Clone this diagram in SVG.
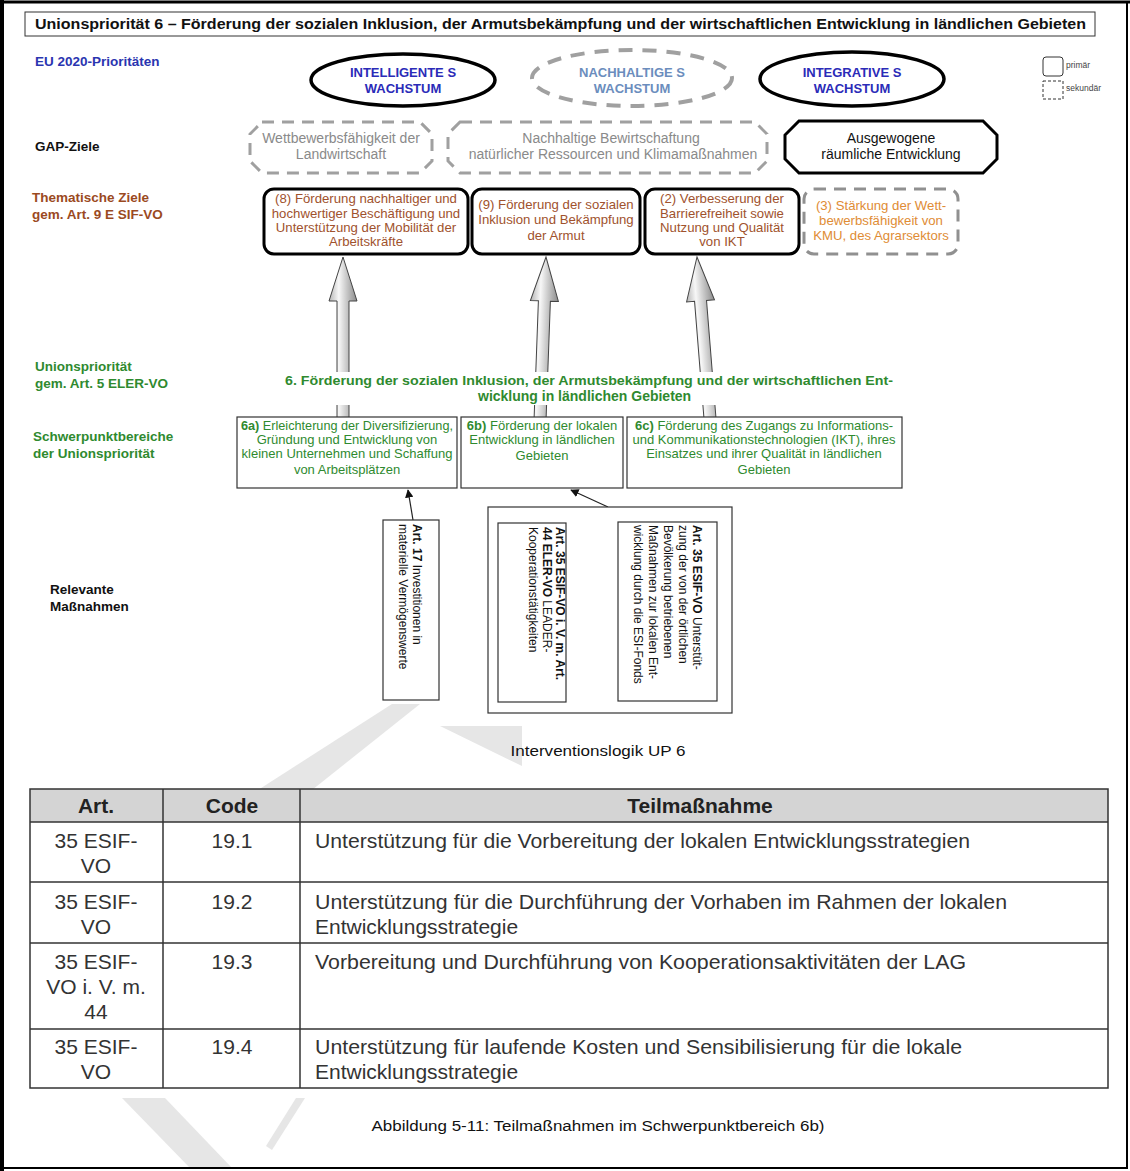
<svg xmlns="http://www.w3.org/2000/svg" width="1130" height="1171" viewBox="0 0 1130 1171">
<defs>
<style>
text{font-family:"Liberation Sans",Arial,sans-serif;}
.lbl{font-size:13.5px;font-weight:bold;}
.c{text-anchor:middle;}
.blue{fill:#2a35b0;}
.brown{fill:#9b4a1f;}
.green{fill:#2f8a2f;}
.ell{fill:#fff;stroke:#000;stroke-width:3.5;}
.elld{fill:#fff;stroke:#a0a0a0;stroke-width:4;stroke-dasharray:14 10;}
.gapd{fill:#fff;stroke:#a0a0a0;stroke-width:3;stroke-dasharray:12 8;}
.gaps{fill:#fff;stroke:#000;stroke-width:3;}
.gt{font-size:14px;fill:#8a8a8a;}
.tz{fill:#fff;stroke:#000;stroke-width:3;}
.tzd{fill:#fff;stroke:#909090;stroke-width:3;stroke-dasharray:12 8;}
.tzt{font-size:13.2px;fill:#a0522d;}
.fb{fill:#fff;stroke:#333;stroke-width:1.2;}
.ft{font-size:13px;fill:#2f8a2f;}
.mb{fill:#fff;stroke:#333;stroke-width:1.2;}
.mt{font-size:12px;fill:#111;}
.th{font-size:21px;font-weight:bold;fill:#222;}
.td{font-size:21px;fill:#333;}
.wm{fill:#e6e6e6;}
</style>
<linearGradient id="ag" x1="0" y1="0" x2="1" y2="0">
<stop offset="0" stop-color="#b5b5b5"/>
<stop offset="0.35" stop-color="#f7f7f7"/>
<stop offset="1" stop-color="#8a8a8a"/>
</linearGradient>
<marker id="ah" viewBox="0 0 10 10" refX="9" refY="5" markerWidth="7" markerHeight="7" orient="auto">
<path d="M0,0 L10,5 L0,10 z" fill="#111"/>
</marker>
<path id="bigarrow" d="M0,0 L14,44 L6,44 L6,162 L-6,162 L-6,44 L-14,44 Z"/>
</defs>

<rect x="0" y="0" width="1130" height="1171" fill="#fff"/>

<!-- watermark fragments -->
<g id="watermark">
<polygon class="wm" points="392,704 420,704 312,790 258,790"/>
<polygon class="wm" points="440,726 522,726 522,766"/>
<polygon class="wm" points="122,1098 165,1098 232,1168 190,1168"/>
<polygon class="wm" points="296,1098 305,1098 272,1150 266,1146"/>
</g>

<!-- frame -->
<rect x="2" y="2" width="1125" height="1166" fill="none" stroke="#000" stroke-width="2"/>
<line x1="2" y1="0" x2="2" y2="1171" stroke="#000" stroke-width="4"/>
<line x1="0" y1="2" x2="1130" y2="2" stroke="#000" stroke-width="3"/>

<!-- title -->
<g id="title">
<rect x="25" y="12" width="1070" height="24" fill="#fff" stroke="#333" stroke-width="1"/>
<text x="35" y="29" font-size="14.5" font-weight="bold" fill="#111" textLength="1051" lengthAdjust="spacingAndGlyphs">Unionspriorität 6 – Förderung der sozialen Inklusion, der Armutsbekämpfung und der wirtschaftlichen Entwicklung in ländlichen Gebieten</text>
</g>

<!-- row labels -->
<g id="row-labels">
<text x="35" y="66" class="lbl blue" font-size="12.5">EU 2020-Prioritäten</text>
<text x="35" y="151" class="lbl" fill="#111">GAP-Ziele</text>
<text x="32" y="202" class="lbl brown" font-size="14">Thematische Ziele</text>
<text x="32" y="219" class="lbl brown" font-size="14">gem. Art. 9 E SIF-VO</text>
<text x="35" y="371" class="lbl green" font-size="14">Unionspriorität</text>
<text x="35" y="388" class="lbl green" font-size="14">gem. Art. 5 ELER-VO</text>
<text x="33" y="441" class="lbl green" font-size="14">Schwerpunktbereiche</text>
<text x="33" y="458" class="lbl green" font-size="14">der Unionspriorität</text>
<text x="50" y="594" class="lbl" font-size="12.5" fill="#111">Relevante</text>
<text x="50" y="611" class="lbl" font-size="12.5" fill="#111">Maßnahmen</text>
</g>

<!-- legend -->
<g id="legend">
<rect x="1043" y="57" width="20" height="19" rx="3" fill="#fff" stroke="#333" stroke-width="1"/>
<text x="1066" y="68" font-size="8.5" fill="#444">primär</text>
<rect x="1043" y="81" width="20" height="18" fill="#fff" stroke="#333" stroke-width="1" stroke-dasharray="3 2"/>
<text x="1066" y="91" font-size="8.5" fill="#444">sekundär</text>
</g>

<!-- EU 2020 -->
<g id="eu-intelligent">
<ellipse cx="403" cy="80" rx="92" ry="26" class="ell"/>
<text x="403" y="77" class="c" font-size="13" font-weight="bold" fill="#2b2bb8">INTELLIGENTE S</text>
<text x="403" y="93" class="c" font-size="13" font-weight="bold" fill="#2b2bb8">WACHSTUM</text>
</g>
<g id="eu-nachhaltig">
<ellipse cx="632" cy="78" rx="100" ry="28" class="elld"/>
<text x="632" y="77" class="c" font-size="13" font-weight="bold" fill="#6b8dbd">NACHHALTIGE S</text>
<text x="632" y="93" class="c" font-size="13" font-weight="bold" fill="#6b8dbd">WACHSTUM</text>
</g>
<g id="eu-integrativ">
<ellipse cx="852" cy="79" rx="92" ry="27" class="ell"/>
<text x="852" y="77" class="c" font-size="13" font-weight="bold" fill="#2b2bb8">INTEGRATIVE S</text>
<text x="852" y="93" class="c" font-size="13" font-weight="bold" fill="#2b2bb8">WACHSTUM</text>
</g>

<!-- GAP -->
<g id="gap-wettbewerb">
<path d="M262,122 H420 L432,134 V161 L420,173 H262 L250,161 V134 Z" class="gapd"/>
<text x="341" y="143" class="c gt">Wettbewerbsfähigkeit der</text>
<text x="341" y="159" class="c gt">Landwirtschaft</text>
</g>
<g id="gap-nachhaltig">
<path d="M460,122 H755 L767,134 V161 L755,173 H460 L448,161 V134 Z" class="gapd"/>
<text x="611" y="143" class="c gt">Nachhaltige Bewirtschaftung</text>
<text x="613" y="159" class="c gt">natürlicher Ressourcen und Klimamaßnahmen</text>
</g>
<g id="gap-raeumlich">
<path d="M799,121 H983 L997,135 V159 L983,173 H799 L785,159 V135 Z" class="gaps"/>
<text x="891" y="143" class="c" font-size="14" fill="#111">Ausgewogene</text>
<text x="891" y="159" class="c" font-size="14" fill="#111">räumliche Entwicklung</text>
</g>

<!-- Thematische Ziele -->
<g id="tz8">
<rect x="264" y="189" width="204" height="65" rx="10" class="tz"/>
<text x="366" y="203" class="c tzt">(8) Förderung nachhaltiger und</text>
<text x="366" y="218" class="c tzt">hochwertiger Beschäftigung und</text>
<text x="366" y="232" class="c tzt">Unterstützung der Mobilität der</text>
<text x="366" y="246" class="c tzt">Arbeitskräfte</text>
</g>
<g id="tz9">
<rect x="472" y="189" width="168" height="65" rx="10" class="tz"/>
<text x="556" y="209" class="c tzt">(9) Förderung der sozialen</text>
<text x="556" y="224" class="c tzt">Inklusion und Bekämpfung</text>
<text x="556" y="240" class="c tzt">der Armut</text>
</g>
<g id="tz2">
<rect x="645" y="189" width="154" height="65" rx="10" class="tz"/>
<text x="722" y="203" class="c tzt">(2) Verbesserung der</text>
<text x="722" y="218" class="c tzt">Barrierefreiheit sowie</text>
<text x="722" y="232" class="c tzt">Nutzung und Qualität</text>
<text x="722" y="246" class="c tzt">von IKT</text>
</g>
<g id="tz3">
<rect x="804" y="189" width="154" height="65" rx="10" class="tzd"/>
<text x="881" y="210" class="c" font-size="13.2" fill="#e08c35">(3) Stärkung der Wett-</text>
<text x="881" y="225" class="c" font-size="13.2" fill="#e08c35">bewerbsfähigkeit von</text>
<text x="881" y="240" class="c" font-size="13.2" fill="#e08c35">KMU, des Agrarsektors</text>
</g>

<!-- connectors -->
<g id="connectors">
<use href="#bigarrow" transform="translate(343,257)" fill="url(#ag)" stroke="#444" stroke-width="1"/>
<use href="#bigarrow" transform="translate(546,257) rotate(2.1)" fill="url(#ag)" stroke="#444" stroke-width="1"/>
<use href="#bigarrow" transform="translate(697,257) rotate(-4.6)" fill="url(#ag)" stroke="#444" stroke-width="1"/>
<line x1="413" y1="520" x2="408" y2="490" stroke="#222" stroke-width="1.2" marker-end="url(#ah)"/>
<line x1="608" y1="507" x2="571" y2="490" stroke="#222" stroke-width="1.2" marker-end="url(#ah)"/>
</g>

<!-- Unionspriorität -->
<g id="up6">
<rect x="280" y="372" width="620" height="33" fill="#fff"/>
<text x="285" y="385" font-size="13.5" font-weight="bold" class="green" textLength="608" lengthAdjust="spacingAndGlyphs">6. Förderung der sozialen Inklusion, der Armutsbekämpfung  und der wirtschaftlichen  Ent-</text>
<text x="478" y="401" font-size="14" font-weight="bold" class="green">wicklung in ländlichen Gebieten</text>
</g>

<!-- Schwerpunktbereiche -->
<g id="sp6a">
<rect x="237" y="417" width="220" height="71" class="fb"/>
<text x="347" y="430" class="c ft" textLength="212" lengthAdjust="spacingAndGlyphs"><tspan font-weight="bold">6a)</tspan> Erleichterung der Diversifizierung,</text>
<text x="347" y="444" class="c ft">Gründung und Entwicklung von</text>
<text x="347" y="458" class="c ft">kleinen Unternehmen und Schaffung</text>
<text x="347" y="474" class="c ft">von Arbeitsplätzen</text>
</g>
<g id="sp6b">
<rect x="461" y="417" width="162" height="71" class="fb"/>
<text x="542" y="430" class="c ft"><tspan font-weight="bold">6b)</tspan> Förderung der lokalen</text>
<text x="542" y="444" class="c ft">Entwicklung in ländlichen</text>
<text x="542" y="460" class="c ft">Gebieten</text>
</g>
<g id="sp6c">
<rect x="627" y="417" width="275" height="71" class="fb"/>
<text x="764" y="430" class="c ft"><tspan font-weight="bold">6c)</tspan> Förderung des Zugangs zu Informations-</text>
<text x="764" y="444" class="c ft">und Kommunikationstechnologien (IKT), ihres</text>
<text x="764" y="458" class="c ft">Einsatzes und ihrer Qualität in ländlichen</text>
<text x="764" y="474" class="c ft">Gebieten</text>
</g>

<!-- Maßnahmen -->
<g id="m17">
<rect x="383" y="520" width="56" height="180" class="mb"/>
<text transform="translate(413,524) rotate(90)" class="mt"><tspan font-weight="bold">Art. 17</tspan> Investitionen in</text>
<text transform="translate(399,524) rotate(90)" class="mt">materielle Vermögenswerte</text>
</g>
<g id="m35">
<rect x="488" y="507" width="244" height="206" class="mb"/>
<rect x="498" y="523" width="68" height="179" class="mb"/>
<text transform="translate(556,527) rotate(90)" class="mt" font-weight="bold">Art. 35 ESIF-VO i. V. m. Art.</text>
<text transform="translate(543,527) rotate(90)" class="mt"><tspan font-weight="bold">44 ELER-VO</tspan> LEADER-</text>
<text transform="translate(529,527) rotate(90)" class="mt">Kooperationstätigkeiten</text>
<rect x="618" y="522" width="99" height="179" class="mb"/>
<text transform="translate(693,525) rotate(90)" class="mt"><tspan font-weight="bold">Art. 35 ESIF-VO</tspan> Unterstüt-</text>
<text transform="translate(679,525) rotate(90)" class="mt">zung der von der örtlichen</text>
<text transform="translate(664,525) rotate(90)" class="mt">Bevölkerung betriebenen</text>
<text transform="translate(649,525) rotate(90)" class="mt">Maßnahmen zur lokalen Ent-</text>
<text transform="translate(634,525) rotate(90)" class="mt">wicklung durch die ESI-Fonds</text>
</g>

<text x="598" y="756" class="c" font-size="15" fill="#111" textLength="175" lengthAdjust="spacingAndGlyphs">Interventionslogik UP 6</text>

<!-- table -->
<g id="table">
<rect x="30" y="789" width="1078" height="33" fill="#d4d4d4"/>
<rect x="30" y="789" width="1078" height="299" fill="none" stroke="#333" stroke-width="1.5"/>
<line x1="30" y1="822" x2="1108" y2="822" stroke="#333" stroke-width="1.5"/>
<line x1="30" y1="882" x2="1108" y2="882" stroke="#333" stroke-width="1.5"/>
<line x1="30" y1="943" x2="1108" y2="943" stroke="#333" stroke-width="1.5"/>
<line x1="30" y1="1029" x2="1108" y2="1029" stroke="#333" stroke-width="1.5"/>
<line x1="163" y1="789" x2="163" y2="1088" stroke="#333" stroke-width="1.5"/>
<line x1="300" y1="789" x2="300" y2="1088" stroke="#333" stroke-width="1.5"/>
<text x="96" y="813" class="c th">Art.</text>
<text x="232" y="813" class="c th">Code</text>
<text x="700" y="813" class="c th">Teilmaßnahme</text>

<text x="96" y="848" class="c td">35 ESIF-</text>
<text x="96" y="873" class="c td">VO</text>
<text x="232" y="848" class="c td">19.1</text>
<text x="315" y="848" class="td" textLength="655" lengthAdjust="spacingAndGlyphs">Unterstützung für die Vorbereitung der lokalen Entwicklungsstrategien</text>

<text x="96" y="909" class="c td">35 ESIF-</text>
<text x="96" y="934" class="c td">VO</text>
<text x="232" y="909" class="c td">19.2</text>
<text x="315" y="909" class="td" textLength="692" lengthAdjust="spacingAndGlyphs">Unterstützung für die Durchführung der Vorhaben im Rahmen der lokalen</text>
<text x="315" y="934" class="td">Entwicklungsstrategie</text>

<text x="96" y="969" class="c td">35 ESIF-</text>
<text x="96" y="994" class="c td">VO i. V. m.</text>
<text x="96" y="1019" class="c td">44</text>
<text x="232" y="969" class="c td">19.3</text>
<text x="315" y="969" class="td" textLength="651" lengthAdjust="spacingAndGlyphs">Vorbereitung und Durchführung von Kooperationsaktivitäten  der LAG</text>

<text x="96" y="1054" class="c td">35 ESIF-</text>
<text x="96" y="1079" class="c td">VO</text>
<text x="232" y="1054" class="c td">19.4</text>
<text x="315" y="1054" class="td" textLength="647" lengthAdjust="spacingAndGlyphs">Unterstützung für laufende Kosten und Sensibilisierung  für die lokale</text>
<text x="315" y="1079" class="td">Entwicklungsstrategie</text>
</g>

<text x="598" y="1131" class="c" font-size="14" fill="#111" textLength="453" lengthAdjust="spacingAndGlyphs">Abbildung 5-11: Teilmaßnahmen im Schwerpunktbereich 6b)</text>
</svg>
